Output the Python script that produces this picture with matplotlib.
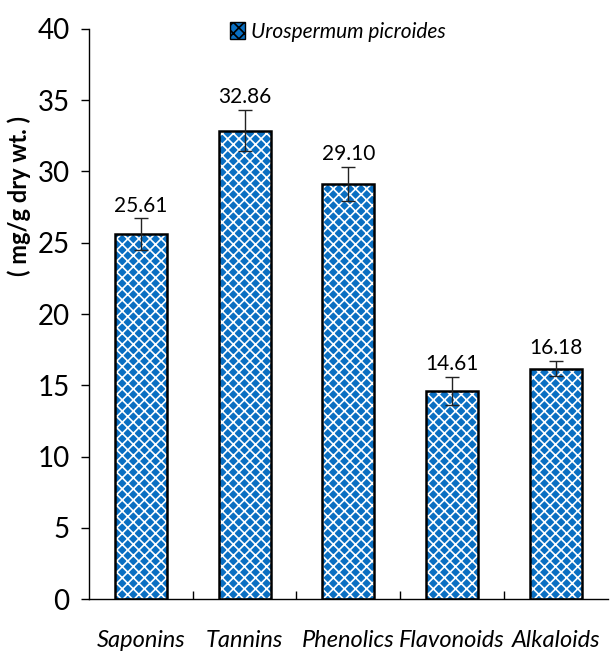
import numpy as np
import matplotlib.pyplot as plt
from matplotlib.patches import Patch

categories = ['Saponins', 'Tannins', 'Phenolics', 'Flavonoids', 'Alkaloids']
values = [25.61, 32.86, 29.10, 14.61, 16.18]
errors = [1.1, 1.45, 1.2, 1.0, 0.55]
labels = ['25.61', '32.86', '29.10', '14.61', '16.18']

plt.rcParams['font.family'] = ['Lato', 'DejaVu Sans']
plt.rcParams['hatch.linewidth'] = 1.2

blue = '#0a6fc2'
fig = plt.figure(figsize=(6.10, 6.57), dpi=100)
ax = fig.add_axes([0.146, 0.088, 0.85, 0.868])

x = np.arange(len(categories))
# patterned fill, then black outline on top
ax.bar(x, values, width=0.5, color=blue, hatch='xxx', edgecolor='white', linewidth=0, zorder=2)
ax.bar(x, values, width=0.5, fill=False, edgecolor='black', linewidth=1.8, zorder=3)
ax.errorbar(x, values, yerr=errors, fmt='none', ecolor='#222222', elinewidth=1, capsize=5, capthick=1, zorder=4)

for xi, v, e, lab in zip(x, values, errors, labels):
    ax.text(xi, v + e + 0.2, lab, ha='center', va='bottom', fontsize=15)

ax.set_xlim(-0.5, 4.5)
ax.set_ylim(0, 40)
ax.set_yticks(range(0, 41, 5))
ax.tick_params(axis='y', labelsize=20, length=6, direction='out', width=1, pad=8)
ax.set_xticks(x)
ax.set_xticklabels(categories, fontsize=17, style='italic')
ax.tick_params(axis='x', length=0, pad=22)
# minor ticks between categories
ax.set_xticks(x[:-1] + 0.5, minor=True)
ax.tick_params(axis='x', which='minor', length=6, direction='in', width=1)

for s in ['top', 'right']:
    ax.spines[s].set_visible(False)
ax.spines['left'].set_linewidth(1)
ax.spines['bottom'].set_linewidth(1)

ax.set_ylabel('( mg/g dry wt. )', fontsize=17, fontweight='bold')
ax.yaxis.set_label_coords(-0.112, 0.707)

handle = Patch(facecolor=blue, hatch='xxx', edgecolor='black', linewidth=1)
ax.legend([handle], ['Urospermum picroides'], loc='upper center', bbox_to_anchor=(0.48, 1.045),
          frameon=False, prop={'size': 15, 'style': 'italic'}, handlelength=0.7, handleheight=0.9,
          handletextpad=0.3)

fig.savefig('out.png', dpi=100)
